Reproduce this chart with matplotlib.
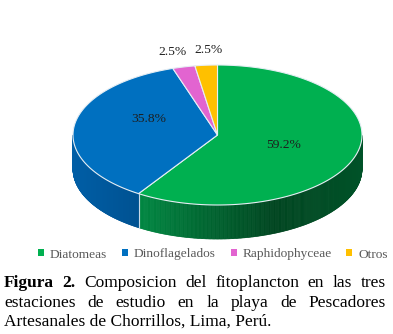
import numpy as np
import matplotlib
matplotlib.use('Agg')
import matplotlib.pyplot as plt
from matplotlib.patches import Polygon, Patch
from matplotlib.collections import PolyCollection

# ---------------- data ----------------
categories = ['Diatomeas', 'Dinoflagelados', 'Raphidophyceae', 'Otros']
values = [59.2, 35.8, 2.5, 2.5]
pct_labels = ['59.2%', '35.8%', '2.5%', '2.5%']
caption_line1 = [('Figura', 'bold'), ('2.', 'bold'), ('Composicion', 'normal'), ('del', 'normal'),
                 ('fitoplancton', 'normal'), ('en', 'normal'), ('las', 'normal'), ('tres', 'normal')]
caption_line2 = 'estaciones de estudio en la playa de Pescadores'
caption_line3 = 'Artesanales de Chorrillos, Lima, Perú.'

# ---------------- style ----------------
colors = ['#00B050', '#0070C0', '#E264D0', '#FFC000']
side_grad = {
    0: ([138, 275, 362], [(0x00, 0x88, 0x42), (0x00, 0x45, 0x20), (0x00, 0x52, 0x28)]),
    1: ([73, 138], [(0x00, 0x5E, 0xA6), (0x00, 0x52, 0x92)]),
    2: ([0, 393], [(0xB0, 0x40, 0xA0), (0xB0, 0x40, 0xA0)]),
    3: ([0, 393], [(0xC8, 0x96, 0x00), (0xC8, 0x96, 0x00)]),
}
label_mode = ['in', 'in', 'out', 'out']
label_nudge = [(0, 0), (0, 12), (-11, 0), (2, 0)]
serif = 'Liberation Serif'

W, H = 393, 334
fig = plt.figure(figsize=(W / 100, H / 100), dpi=100)
ax = fig.add_axes([0, 0, 1, 1])
ax.set_xlim(0, W)
ax.set_ylim(0, H)
ax.axis('off')

cx, cy, rx, ry, depth = 217.5, 199, 144.5, 70, 34
fracs = np.array(values) / np.sum(values)
starts = 90 - 360 * np.concatenate([[0], np.cumsum(fracs)[:-1]])
ends = starts - 360 * fracs


def ell(t_deg, r=1.0):
    t = np.radians(t_deg)
    return cx + r * rx * np.cos(t), cy + r * ry * np.sin(t)


def side_color(i, x):
    xs, cs = side_grad[i]
    cs = np.array(cs) / 255.0
    return tuple(np.interp(x, xs, cs[:, k]) for k in range(3))


# side walls (front half)
for i in range(len(values)):
    ts = np.linspace(ends[i], starts[i], 400)
    polys, fcs = [], []
    for a, b in zip(ts[:-1], ts[1:]):
        if np.sin(np.radians(a)) <= 0 and np.sin(np.radians(b)) <= 0:
            x1, y1 = ell(a)
            x2, y2 = ell(b)
            polys.append([(x1, y1), (x2, y2), (x2, y2 - depth), (x1, y1 - depth)])
            fcs.append(side_color(i, (x1 + x2) / 2))
    if polys:
        ax.add_collection(PolyCollection(polys, facecolors=fcs, edgecolors=fcs, linewidths=0.5))

# boundary lines on side
for i in range(len(values)):
    a = starts[i]
    if np.sin(np.radians(a)) < 0:
        x, y = ell(a)
        ax.plot([x, x], [y, y - depth], color='#c8d8e8', lw=0.8)

# top wedges
for i in range(len(values)):
    ts = np.linspace(starts[i], ends[i], 200)
    xs, ys = ell(ts)
    pts = [(cx, cy)] + list(zip(xs, ys))
    ax.add_patch(Polygon(pts, closed=True, facecolor=colors[i], edgecolor='#e6eef4', lw=0.8))

# labels
for i, lab in enumerate(pct_labels):
    mid = (starts[i] + ends[i]) / 2
    if label_mode[i] == 'in':
        x, y = ell(mid, 0.48)
    else:
        x, y = ell(mid, 1.0)
        y += 15
    x += label_nudge[i][0]
    y += label_nudge[i][1]
    ax.text(x, y, lab, ha='center', va='center', fontsize=9.7, family=serif, color='#1e1e1e')

# legend
handles = [Patch(facecolor=c, edgecolor='none') for c in colors]
leg = ax.legend(handles, categories, loc='center', bbox_to_anchor=(213 / W, (H - 254.5) / H),
                ncol=4, frameon=False, prop={'family': serif, 'size': 9.6},
                handlelength=0.45, handleheight=0.45, handletextpad=0.45, columnspacing=1.1,
                labelcolor='#595959')

# caption
fs = 12.5
renderer = fig.canvas.get_renderer()
x0, x1 = 4, 386
base = [H - 287, H - 307, H - 326]


def justify(words, y):
    arts, widths = [], []
    for w, wt in words:
        t = ax.text(0, y, w, fontsize=fs, family=serif, weight=wt, color='black',
                    ha='left', va='baseline')
        arts.append(t)
        widths.append(t.get_window_extent(renderer).width)
    gap = (x1 - x0 - sum(widths)) / (len(words) - 1)
    x = x0
    for t, w in zip(arts, widths):
        t.set_x(x)
        x += w + gap


justify(caption_line1, base[0])
justify([(w, 'normal') for w in caption_line2.split()], base[1])
ax.text(x0, base[2], caption_line3, fontsize=fs, family=serif, color='black', ha='left', va='baseline')

fig.savefig('out.png', dpi=100)
